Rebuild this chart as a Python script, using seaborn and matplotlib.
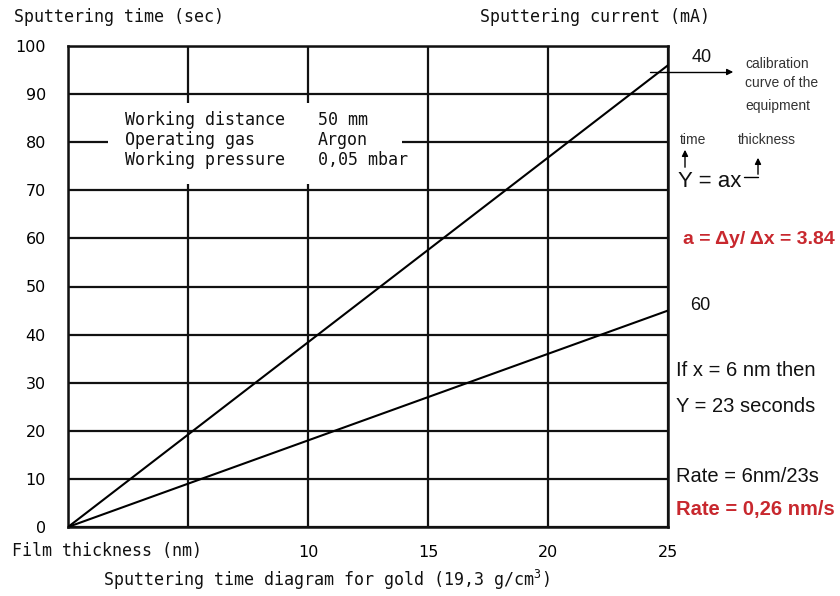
import matplotlib
matplotlib.use("Agg")
import matplotlib.pyplot as plt
from matplotlib.patches import Rectangle
import pandas as pd
import seaborn as sns

# Calibration lines: sputtering time vs. film thickness for two currents
thickness_nm = [0, 25]
time_40mA = [0, 96]
time_60mA = [0, 45]
current_labels = ["40", "60"]

x_ticks = [10, 15, 20, 25]
y_ticks = [0, 10, 20, 30, 40, 50, 60, 70, 80, 90, 100]

conditions = [("Working distance", "50 mm"),
              ("Operating gas", "Argon"),
              ("Working pressure", "0,05 mbar")]

sns.set_theme(style="white")
plt.rcParams["font.family"] = ["DejaVu Sans Mono", "DejaVu Sans"]
plt.rcParams["mathtext.fontset"] = "custom"
plt.rcParams["mathtext.rm"] = "DejaVu Sans Mono"

W, H = 840, 596
fig = plt.figure(figsize=(W / 100, H / 100), dpi=100)
ax = fig.add_axes([68 / W, 1 - 527 / H, 600 / W, 481 / H])

df = pd.concat([
    pd.DataFrame({"thickness": thickness_nm, "time": time_40mA, "current": current_labels[0]}),
    pd.DataFrame({"thickness": thickness_nm, "time": time_60mA, "current": current_labels[1]}),
])
sns.lineplot(data=df, x="thickness", y="time", units="current", estimator=None,
             color="black", linewidth=1.5, ax=ax, legend=False, zorder=3)

ax.set_xlim(0, 25)
ax.set_ylim(0, 100)
ax.set_xticks([0, 5] + x_ticks)
ax.set_xticklabels(["", ""] + [str(v) for v in x_ticks])
ax.set_yticks(y_ticks)
ax.set_yticklabels([str(v) for v in y_ticks])
ax.tick_params(axis="both", length=0, labelsize=11.5, colors="black")
ax.tick_params(axis="y", pad=16)
ax.tick_params(axis="x", pad=13)
for lab in ax.get_xticklabels() + ax.get_yticklabels():
    lab.set_family(["DejaVu Sans"])
ax.set_xlabel("")
ax.set_ylabel("")

ax.set_axisbelow(True)
ax.grid(True, color="#111111", linewidth=1.6)
for s in ax.spines.values():
    s.set_color("#111111")
    s.set_linewidth(1.8)

# blank panel behind the process conditions
ax.add_patch(Rectangle((1.67, 71.4), 12.25, 16.8, facecolor="white",
                       edgecolor="none", zorder=1))


def fx(px):
    return px / W


def fy(py):
    return 1 - py / H


mono = dict(family=["DejaVu Sans Mono"], color="#111111", va="center", ha="left")
for i, (name, val) in enumerate(conditions):
    y = 120 + 20 * i
    fig.text(fx(125), fy(y), name, fontsize=12, **mono)
    fig.text(fx(318), fy(y), val, fontsize=12, **mono)

fig.text(fx(14), fy(17), "Sputtering time (sec)", fontsize=12, **mono)
fig.text(fx(480), fy(17), "Sputtering current (mA)", fontsize=12, **mono)
fig.text(fx(12), fy(551), "Film thickness (nm)", fontsize=12, **mono)
fig.text(fx(103), fy(580), "Sputtering time diagram for gold (19,3 g/cm$^{3}$)",
         fontsize=12, **mono)

sans = dict(family=["Liberation Sans", "DejaVu Sans"], va="center", ha="left")
fig.text(fx(692), fy(58), current_labels[0], fontsize=13, color="#111111", **sans)
fig.text(fx(690), fy(306), current_labels[1], fontsize=13, color="#111111", **sans)

fig.text(fx(745), fy(64), "calibration", fontsize=10, color="#333333", **sans)
fig.text(fx(745), fy(83), "curve of the", fontsize=10, color="#333333", **sans)
fig.text(fx(745), fy(106), "equipment", fontsize=10, color="#333333", **sans)
fig.add_artist(plt.Line2D([fx(650), fx(728)], [fy(72), fy(72)], color="black", lw=1))
ax.annotate("", xy=(fx(736), fy(72)), xytext=(fx(726), fy(72)),
            xycoords="figure fraction", textcoords="figure fraction",
            arrowprops=dict(arrowstyle="-|>", color="black", lw=1, mutation_scale=9))

fig.text(fx(680), fy(140), "time", fontsize=10, color="#333333", **sans)
fig.text(fx(738), fy(140), "thickness", fontsize=10, color="#333333", **sans)
fig.text(fx(678), fy(182), "Y = ax", fontsize=16, color="#111111", **sans)
ax.annotate("", xy=(fx(685), fy(147)), xytext=(fx(685), fy(170)),
            xycoords="figure fraction", textcoords="figure fraction",
            arrowprops=dict(arrowstyle="-|>", color="black", lw=1, mutation_scale=9))
fig.add_artist(plt.Line2D([fx(744), fx(758)], [fy(177), fy(177)], color="black", lw=1))
ax.annotate("", xy=(fx(758), fy(155)), xytext=(fx(758), fy(177)),
            xycoords="figure fraction", textcoords="figure fraction",
            arrowprops=dict(arrowstyle="-|>", color="black", lw=1, mutation_scale=9))

red = "#C8282E"
fig.text(fx(683), fy(240), "a = \u0394y/ \u0394x = 3.84", fontsize=14,
         color=red, fontweight="bold", **sans)
fig.text(fx(676), fy(371), "If x = 6 nm then", fontsize=14.5, color="#111111", **sans)
fig.text(fx(676), fy(406), "Y = 23 seconds", fontsize=14.5, color="#111111", **sans)
fig.text(fx(676), fy(476), "Rate = 6nm/23s", fontsize=14.5, color="#111111", **sans)
fig.text(fx(676), fy(510), "Rate = 0,26 nm/s", fontsize=14.5, color=red,
         fontweight="bold", **sans)

fig.savefig("out.png", dpi=100, facecolor="white")
